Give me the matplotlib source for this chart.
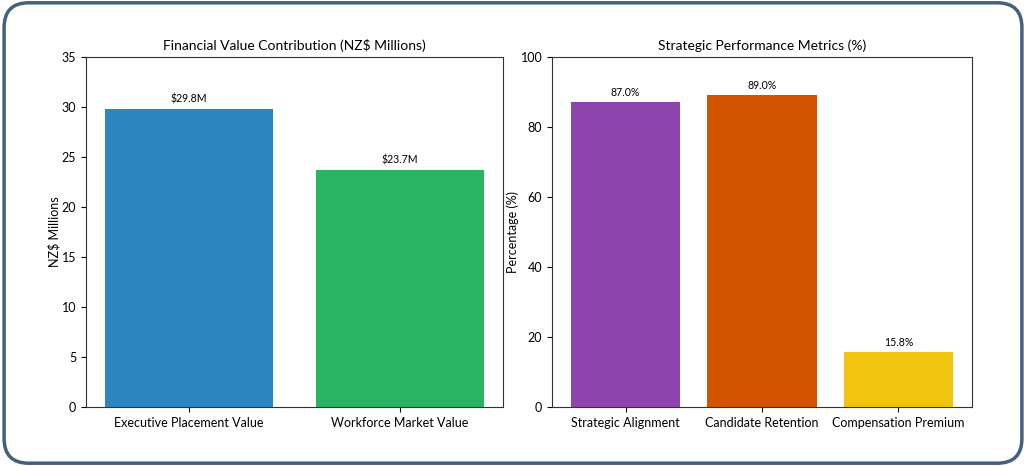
import matplotlib
matplotlib.use("Agg")
import matplotlib.pyplot as plt
from matplotlib.patches import FancyBboxPatch

plt.rcParams['font.family'] = ['Lato', 'DejaVu Sans']

fin_labels = ["Executive Placement Value", "Workforce Market Value"]
fin_values = [29.8, 23.7]
fin_colors = ["#2e86c1", "#28b463"]

perf_labels = ["Strategic Alignment", "Candidate Retention", "Compensation Premium"]
perf_values = [87.0, 89.0, 15.8]
perf_colors = ["#8e44ad", "#d35400", "#f1c40f"]

fig = plt.figure(figsize=(10.26, 4.66), dpi=100)

# rounded frame round the whole figure
frame = FancyBboxPatch((0.004, 0.006), 0.992, 0.988,
                       boxstyle="round,pad=0,rounding_size=0.024",
                       transform=fig.transFigure, facecolor="white",
                       edgecolor="#44607f", linewidth=2.5, zorder=-1,
                       mutation_aspect=1026 / 466)
fig.patches.append(frame)

ax1 = fig.add_axes([0.0838, 0.1266, 0.4065, 0.7511])
ax2 = fig.add_axes([0.538, 0.1266, 0.4094, 0.7511])

bars = ax1.bar(fin_labels, fin_values, color=fin_colors)
ax1.set_ylim(0, 35)
ax1.set_title("Financial Value Contribution (NZ$ Millions)", fontsize=10, pad=5)
ax1.set_ylabel("NZ$ Millions", fontsize=9, labelpad=1)
for b, v in zip(bars, fin_values):
    ax1.text(b.get_x() + b.get_width() / 2, v + 0.45, f"${v:.1f}M",
             ha="center", va="bottom", fontsize=7.6)

bars = ax2.bar(perf_labels, perf_values, color=perf_colors)
ax2.set_ylim(0, 100)
ax2.set_title("Strategic Performance Metrics (%)", fontsize=10, pad=5)
ax2.set_ylabel("Percentage (%)", fontsize=9, labelpad=1)
for b, v in zip(bars, perf_values):
    ax2.text(b.get_x() + b.get_width() / 2, v + 1.2, f"{v:.1f}%",
             ha="center", va="bottom", fontsize=7.6)

for ax in (ax1, ax2):
    ax.tick_params(labelsize=9)
    for s in ax.spines.values():
        s.set_color("#333333")

fig.savefig("out.png", dpi=100)
